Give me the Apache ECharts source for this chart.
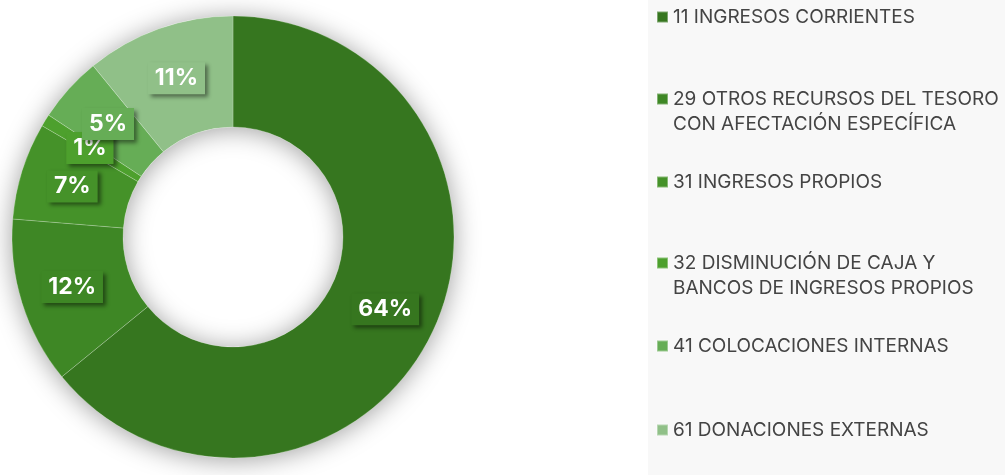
<!DOCTYPE html>
<html>
<head>
<meta charset="utf-8">
<script src="https://cdn.jsdelivr.net/npm/echarts@6/dist/echarts.min.js"></script>
<style>
  html, body { margin: 0; padding: 0; background: #fff; }
  #chart { width: 1005px; height: 475px; }
</style>
</head>
<body>
<div id="chart"></div>
<script>
// fuentes de financiamiento (percent of total)
const categories = [
  '11 INGRESOS CORRIENTES',
  '29 OTROS RECURSOS DEL TESORO\nCON AFECTACIÓN ESPECÍFICA',
  '31 INGRESOS PROPIOS',
  '32 DISMINUCIÓN DE CAJA Y\nBANCOS DE INGRESOS PROPIOS',
  '41 COLOCACIONES INTERNAS',
  '61 DONACIONES EXTERNAS'
]
const shares = [64.1, 12.2, 7.1, 0.9, 4.8, 10.9]

const colors = ['#36761f', '#3e8725', '#459229', '#4da02d', '#66ad56', '#90c088']
const legendTops = [4.5, 61.5, 169.5, 225.5, 333.5, 417.5]

const chart = echarts.init(document.getElementById('chart'))

const legends = categories.map((name, i) => {
  const twoLines = name.indexOf('\n') >= 0
  return {
    data: [name],
    orient: 'vertical',
    left: 656,
    top: legendTops[i],
    padding: 0,
    icon: 'rect',
    itemWidth: 11,
    itemHeight: 11,
    selectedMode: false,
    // blank first line keeps the square next to the first text line
    formatter: n => (twoLines ? '\n' + n : n),
    textStyle: {
      fontFamily: 'Inter',
      fontSize: 19,
      color: '#444',
      lineHeight: 25
    }
  }
})

chart.setOption({
  animation: false,
  color: colors,
  graphic: [{
    type: 'rect',
    z: -10,
    shape: { x: 648, y: 0, width: 357, height: 475 },
    style: { fill: '#f8f8f8' }
  }],
  legend: legends,
  series: [{
    // ring behind the slices, only for the soft shadow
    type: 'pie',
    silent: true,
    center: [233, 237],
    radius: [110, 221],
    label: { show: false },
    itemStyle: {
      color: '#fff',
      shadowBlur: 26,
      shadowOffsetY: 2,
      shadowColor: 'rgba(0,0,0,0.38)'
    },
    data: [{ name: '', value: 1 }],
    z: 1
  }, {
    type: 'pie',
    center: [233, 237],
    radius: [110, 221],
    startAngle: 90,
    percentPrecision: 0,
    minShowLabelAngle: 0,
    avoidLabelOverlap: false,
    labelLayout: { hideOverlap: false },
    itemStyle: {
      borderColor: 'rgba(255,255,255,0.35)',
      borderWidth: 0.6
    },
    label: {
      show: true,
      position: 'inside',
      formatter: '{d}%',
      fontFamily: 'Inter',
      fontWeight: 'bold',
      fontSize: 23,
      lineHeight: 22,
      color: '#fff',
      padding: [6, 7, 4, 7],
      shadowBlur: 4,
      shadowOffsetX: 3,
      shadowOffsetY: 3,
      shadowColor: 'rgba(0,0,0,0.45)'
    },
    labelLine: { show: false },
    data: categories.map((name, i) => ({
      name: name,
      value: shares[i],
      label: { backgroundColor: colors[i] }
    })),
    z: 2
  }]
})
</script>
</body>
</html>
